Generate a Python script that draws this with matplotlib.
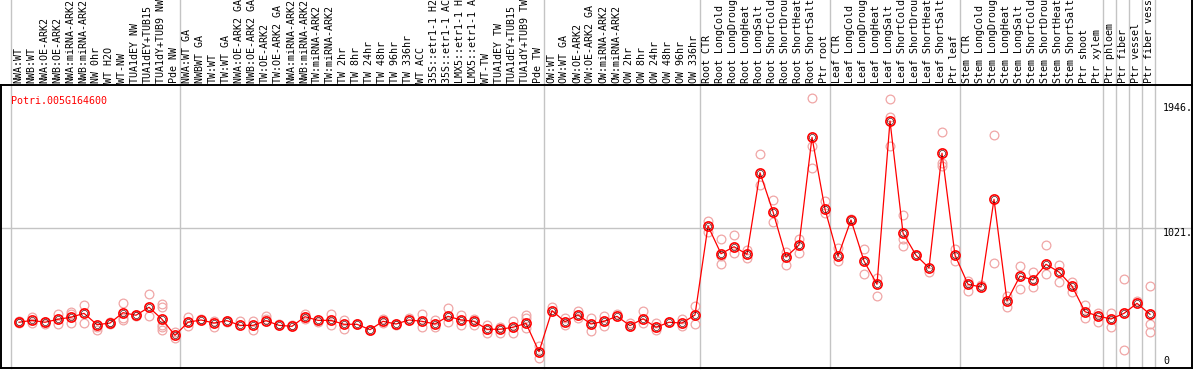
import matplotlib
matplotlib.use("Agg")
import matplotlib.pyplot as plt
import matplotlib.transforms as mtransforms

# ---------------------------------------------------------------------------
# Data
# ---------------------------------------------------------------------------
gene = "Potri.005G164600"

samples = [
    # group 1
    "NWA:WT", "NWB:WT", "NWA:OE-ARK2", "NWB:OE-ARK2", "NWA:miRNA-ARK2",
    "NWB:miRNA-ARK2", "NW 0hr", "WT H2O", "WT-NW", "TUA1dEY NW",
    "TUA1dEY+TUB15", "TUA1dY+TUB9 NW", "Pde NW",
    # group 2
    "NWA:WT GA", "NWBWT GA", "TW:WT", "TW:WT GA", "NWA:OE-ARK2 GA",
    "NWB:OE-ARK2 GA", "TW:OE-ARK2", "TW:OE-ARK2 GA", "NWA:miRNA-ARK2",
    "NWB:miRNA-ARK2", "TW:miRNA-ARK2", "TW:miRNA-ARK2", "TW 2hr", "TW 8hr",
    "TW 24hr", "TW 48hr", "TW 96hr", "TW 336hr", "WT ACC",
    "35S::etr1-1 H2", "35S::etr1-1 AC", "LMX5::etr1-1 H",
    "LMX5::etr1-1 A", "WT-TW", "TUA1dEY TW", "TUA1dEY+TUB15",
    "TUA1dY+TUB9 TW", "Pde TW",
    # group 3
    "OW:WT", "OW:WT GA", "OW:OE-ARK2", "OW:OE-ARK2 GA", "OW:miRNA-ARK2",
    "OW:miRNA-ARK2", "OW 2hr", "OW 8hr", "OW 24hr", "OW 48hr", "OW 96hr",
    "OW 336hr",
    # root
    "Root CTR", "Root LongCold", "Root LongDroug", "Root LongHeat",
    "Root LongSalt", "Root ShortCold", "Root ShortDrou", "Root ShortHeat",
    "Root ShortSalt", "Ptr root",
    # leaf
    "Leaf CTR", "Leaf LongCold", "Leaf LongDroug", "Leaf LongHeat",
    "Leaf LongSalt", "Leaf ShortCold", "Leaf ShortDrou", "Leaf ShortHeat",
    "Leaf ShortSalt", "Ptr leaf",
    # stem
    "Stem CTR", "Stem LongCold", "Stem LongDroug", "Stem LongHeat",
    "Stem LongSalt", "Stem ShortCold", "Stem ShortDrou", "Stem ShortHeat",
    "Stem ShortSalt", "Ptr shoot", "Ptr xylem",
    # single tissues
    "Ptr phloem", "Ptr fiber", "Ptr vessel", "Ptr fiber vess",
]

# index of the first sample of each block (block separators)
group_starts = [0, 13, 41, 53, 63, 73, 84, 85, 86, 87, 88]

means = [
    326, 340, 326, 348, 363, 392, 308, 320, 397, 378, 437, 348, 229,
    326, 343, 320, 338, 303, 303, 338, 303, 296, 367, 340, 340, 311, 311,
    271, 333, 313, 343, 333, 313, 370, 343, 333, 274, 274, 289, 318, 108,
    412, 330, 380, 313, 333, 370, 301, 352, 289, 326, 320, 380,
    1039, 833, 885, 829, 1433, 1144, 809, 898, 1695, 1162,
    814, 1083, 779, 607, 1816, 987, 822, 728, 1577, 822,
    607, 587, 1236, 483, 668, 639, 755, 698, 594, 404, 372,
    350, 392, 466, 385,
]

replicates = [
    [320, 332], [367, 318], [311, 330], [385, 311], [402, 385, 318],
    [454, 323], [269, 293], [315, 325], [469, 355, 343], [380, 372],
    [535, 372], [459, 436, 306, 288, 269], [256, 207],
    [362, 298], [348], [338, 288], [325], [338], [338, 269], [372, 348],
    [311], [303], [385, 348], [330], [385, 306], [343, 276], [311], [266],
    [348, 318], [306], [355], [385, 293], [343, 293], [434, 330],
    [380, 306], [348, 306], [306, 244], [288, 244], [335, 244],
    [380, 355, 281], [150, 59],
    [441], [355, 306], [412, 355], [360, 264], [375, 298], [385], [318],
    [409, 318], [323, 269], [325], [350, 298], [446, 311],
    [1075, 997], [942, 755, 814], [972, 836], [863, 799], [1569, 1342],
    [1228, 1071], [844, 747], [942, 836], [1983, 1633, 1465], [1221, 1132],
    [878, 782], [1083, 1090], [868, 681], [656, 520], [1976, 1845, 1631],
    [1117, 942, 888], [821], [700], [1734, 1502, 1485], [868, 782],
    [634, 555], [602], [1709, 765], [523, 441], [742, 572], [696, 589],
    [895, 683], [750, 624], [626, 548], [454, 360], [397, 330],
    [392, 293], [646, 118], [483], [592, 311, 252],
]

ytick_values = [0, 1021, 1946]
ytick_labels = ["0", "1021.", "1946."]

# ---------------------------------------------------------------------------
# Figure
# ---------------------------------------------------------------------------
W, H = 1194, 370
plt.rcParams["font.family"] = ["DejaVu Sans Mono"]
fs = 7.2

fig = plt.figure(figsize=(W / 100, H / 100), dpi=100)
top_px, bot_px, left_px, right_px = 85, 368, 1, 1192
ax = fig.add_axes([left_px / W, 1 - bot_px / H,
                   (right_px - left_px) / W, (bot_px - top_px) / H])

# x: sample index, pixel = 19 + 13 * i
ax.set_xlim((left_px - 19) / 13, (right_px - 19) / 13)
ax.set_ylim(-12.6, 2082)
ax.set_xticks([])
ax.set_yticks([])
for s in ax.spines.values():
    s.set_color("black")
    s.set_linewidth(1.4)

grey = "#c4c4c4"
ext = 1 + top_px / (bot_px - top_px)
for g in group_starts:
    ax.axvline(g - 8 / 13, ymin=0, ymax=ext, color=grey, lw=1.0,
               clip_on=False, zorder=1)
ax.axhline(1021, color=grey, lw=1.0, zorder=1)

# outer frame above the plot (right edge)
fig.add_artist(plt.Line2D([right_px / W, right_px / W], [1 - top_px / H, 1],
                          color="black", lw=1.4))

x = list(range(len(samples)))

# replicate points
for i, reps in enumerate(replicates):
    ax.plot([i] * len(reps), reps, linestyle="none", marker="o", ms=6.3,
            mfc="none", mec="#f0a6a6", mew=0.9, zorder=2)

# mean line and markers
ax.plot(x, means, color="red", lw=0.9, zorder=3)
ax.plot(x, means, linestyle="none", marker="o", ms=6.6, mfc="none",
        mec="red", mew=1.2, zorder=4)
ax.plot(x, means, linestyle="none", marker="o", ms=4.4, mfc="none",
        mec="#400000", mew=0.45, zorder=5)

# sample labels above the plot
trans = mtransforms.blended_transform_factory(ax.transData, ax.transAxes)
lab_y = 1 + 2 / (bot_px - top_px)
for i, name in enumerate(samples):
    ax.text(i - 0.08, lab_y, name, rotation=90, ha="center", va="bottom",
            fontsize=fs, transform=trans, clip_on=False)

# value labels on the right
xl = (1163 - 19) / 13
for v, t in zip(ytick_values, ytick_labels):
    ax.text(xl, v, t, ha="left", va="bottom" if v == 0 else "top",
            fontsize=fs)

ax.text((10 - 19) / 13 + 0.1, 1964, gene, color="red", fontsize=fs,
        ha="left", va="center")

fig.savefig("out.png", dpi=100)
